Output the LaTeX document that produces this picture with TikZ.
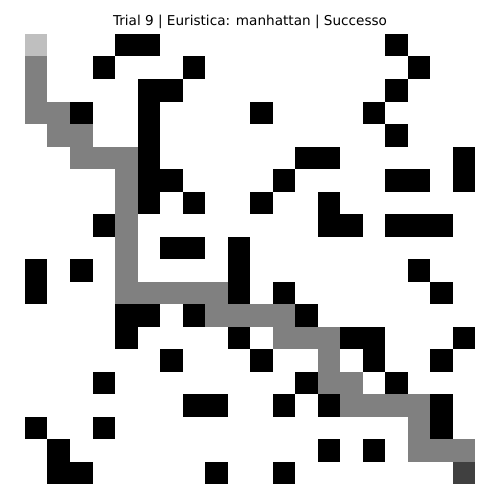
\documentclass[tikz,border=0pt]{standalone}
\usepackage{fontspec}
\setmainfont{DejaVu Sans}
\usepackage{xcolor}
\usepackage{tikz}
\definecolor{gstart}{HTML}{BFBFBF}
\definecolor{groute}{HTML}{808080}
\definecolor{ggoal}{HTML}{404040}

\begin{document}
\begin{tikzpicture}[
  x=22.5pt,y=-22.5pt,
  wall/.style={fill=black},
  route/.style={fill=groute},
  ttl/.style={font=\fontsize{13.6}{16}\selectfont,inner sep=0pt,anchor=base}
]
\useasboundingbox[fill=white] (-1.1111,-1.5111) rectangle (21.1111,20.7111);

% obstacles, row/columns
\foreach \r/\cols in {0/{4,5,16}, 1/{3,7,17}, 2/{5,6,16}, 3/{2,5,10,15},
    4/{5,16}, 5/{5,12,13,19}, 6/{5,6,11,16,17,19}, 7/{5,7,10,13},
    8/{3,13,14,16,17,18}, 9/{6,7,9}, 10/{0,2,9,17}, 11/{0,9,11,18},
    12/{4,5,7,12}, 13/{4,9,14,15,19}, 14/{6,10,15,18}, 15/{3,12,16},
    16/{7,8,11,13,18}, 17/{0,3,18}, 18/{1,13,15}, 19/{1,2,8,11}}
  {\foreach \c in \cols {\fill[wall] (\c,\r) rectangle ++(1,1);}}

% path found
\foreach \r/\c in {1/0, 2/0, 3/0, 3/1, 4/1, 4/2, 5/2, 5/3, 5/4, 6/4, 7/4, 8/4,
    9/4, 10/4, 11/4, 11/5, 11/6, 11/7, 11/8, 12/8, 12/9, 12/10, 12/11,
    13/11, 13/12, 13/13, 14/13, 15/13, 15/14, 16/14, 16/15, 16/16, 16/17,
    17/17, 18/17, 18/18, 18/19}
  {\fill[route] (\c,\r) rectangle ++(1,1);}

% start and goal
\fill[gstart] (0,0) rectangle ++(1,1);
\fill[ggoal] (19,19) rectangle ++(1,1);

\node[ttl] (title) at (10,-0.38) {Trial 9 | Euristica: manhattan | Successo};
\end{tikzpicture}
\end{document}
